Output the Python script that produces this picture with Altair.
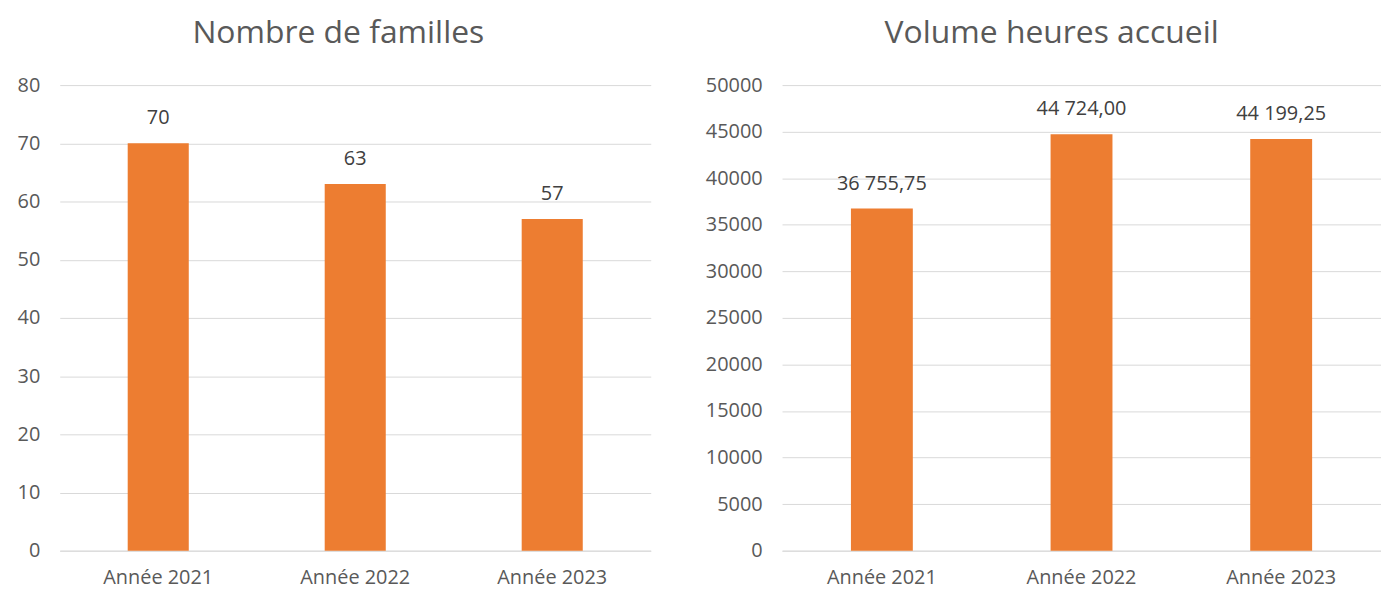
import altair as alt
import pandas as pd

years = ["Année 2021", "Année 2022", "Année 2023"]
familles = [70, 63, 57]
heures = [36755.75, 44724.00, 44199.25]

def fr(v):
    s = f"{v:,.2f}"
    return s.replace(",", " ").replace(".", ",")

df1 = pd.DataFrame({"annee": years, "v": familles, "lab": [str(v) for v in familles]})
df2 = pd.DataFrame({"annee": years, "v": heures, "lab": [fr(v) for v in heures]})

ORANGE = "#ED7D31"
FONT = "Open Sans"

def panel(df, title, domain, step, width, tdx):
    vals = list(range(domain[0], domain[1] + 1, step))
    x = alt.X("annee:N", title=None, sort=years,
              scale=alt.Scale(paddingInner=0.69, paddingOuter=0.345),
              axis=alt.Axis(labelAngle=0, ticks=False, domainColor="#d9d9d9",
                            labelFontSize=20, labelColor="#595959", labelFont=FONT,
                            labelPadding=17))
    y = alt.Y("v:Q", title=None, scale=alt.Scale(domain=domain, nice=False),
              axis=alt.Axis(values=vals, format="d", domain=False, ticks=False,
                            gridColor="#d9d9d9",
                            labelFontSize=20, labelColor="#595959", labelFont=FONT,
                            labelPadding=20))
    bars = alt.Chart(df).mark_bar(color=ORANGE).encode(x=x, y=y)
    text = alt.Chart(df).mark_text(baseline="bottom", dy=-15, fontSize=20,
                                   color="#404040", font=FONT).encode(
        x=alt.X("annee:N", sort=years), y="v:Q", text="lab:N")
    return (bars + text).properties(
        width=width, height=468,
        title=alt.TitleParams(title, fontSize=32, font=FONT, fontWeight="normal",
                              color="#595959", offset=25, dx=tdx))

c1 = panel(df1, "Nombre de familles", [0, 80], 10, 594, -17)
c2 = panel(df2, "Volume heures accueil", [0, 50000], 5000, 602, -30)

chart = alt.hconcat(c1, c2, spacing=54).properties(
    padding={"left": 9, "top": 8, "right": 0, "bottom": 0}
).configure_view(stroke=None)

chart.save("out.html", embed_options={"renderer": "svg", "actions": False})
